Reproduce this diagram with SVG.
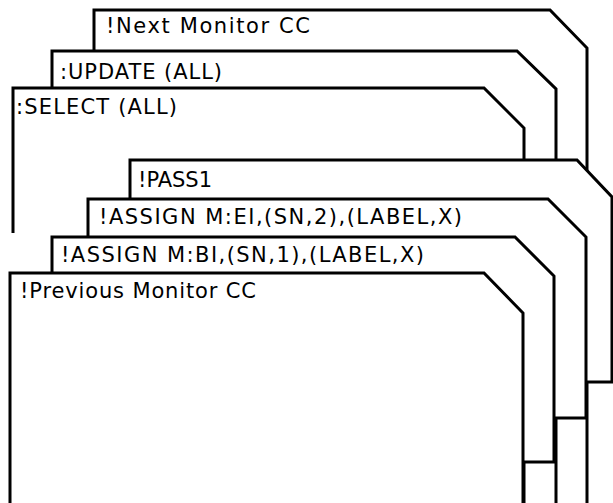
<svg xmlns="http://www.w3.org/2000/svg" width="613" height="503" viewBox="0 0 613 503">
<style>
.bg{fill:#ffffff;stroke:none}
.edge{fill:none;stroke:#000;stroke-width:3;stroke-linejoin:miter}
.lbl{font-family:"DejaVu Sans","Liberation Sans",sans-serif;font-size:21px;fill:#000}
</style>
<rect width="613" height="503" fill="#ffffff"/>
<g id="card-next-monitor">
<polygon class="bg" points="94,10 550,10 587,48 587,503 94,503"/>
<path class="edge" d="M94,52 V10 H550 L587,48 V503"/>
<text class="lbl" x="106" y="33" textLength="204" lengthAdjust="spacing">!Next Monitor CC</text>
</g>
<g id="card-update">
<polygon class="bg" points="52,51 517,51 556,89 556,503 52,503"/>
<path class="edge" d="M52,89 V51 H517 L556,89 V503"/>
<text class="lbl" x="60" y="79" textLength="162" lengthAdjust="spacing">:UPDATE (ALL)</text>
</g>
<g id="card-select">
<polygon class="bg" points="13,88 484,88 524,128 524,503 13,503"/>
<path class="edge" d="M13,233 V88 H484 L524,128 V503"/>
<text class="lbl" x="16" y="114" textLength="161" lengthAdjust="spacing">:SELECT (ALL)</text>
</g>
<g id="card-pass1">
<polygon class="bg" points="130,160 577,160 612,197 612,382 130,382"/>
<path class="edge" d="M130,199 V160 H577 L612,197 V382 H130"/>
<text class="lbl" x="138" y="187" textLength="74" lengthAdjust="spacing">!PASS1</text>
</g>
<g id="card-assign-ei">
<polygon class="bg" points="88,199 548,199 586,237 586,418 88,418"/>
<path class="edge" d="M88,237 V199 H548 L586,237 V418 H88"/>
<text class="lbl" x="99" y="224" textLength="363" lengthAdjust="spacing">!ASSIGN M:EI,(SN,2),(LABEL,X)</text>
</g>
<g id="card-assign-bi">
<polygon class="bg" points="52,237 515,237 554,276 554,462 52,462"/>
<path class="edge" d="M52,274 V237 H515 L554,276 V462 H52"/>
<text class="lbl" x="61" y="262" textLength="363" lengthAdjust="spacing">!ASSIGN M:BI,(SN,1),(LABEL,X)</text>
</g>
<g id="card-previous-monitor">
<polygon class="bg" points="10,273 484,273 523,313 523,503 10,503"/>
<path class="edge" d="M10,503 V273 H484 L523,313 V503"/>
<text class="lbl" x="20" y="298" textLength="236" lengthAdjust="spacing">!Previous Monitor CC</text>
</g>
<g id="connectors"/>
</svg>
